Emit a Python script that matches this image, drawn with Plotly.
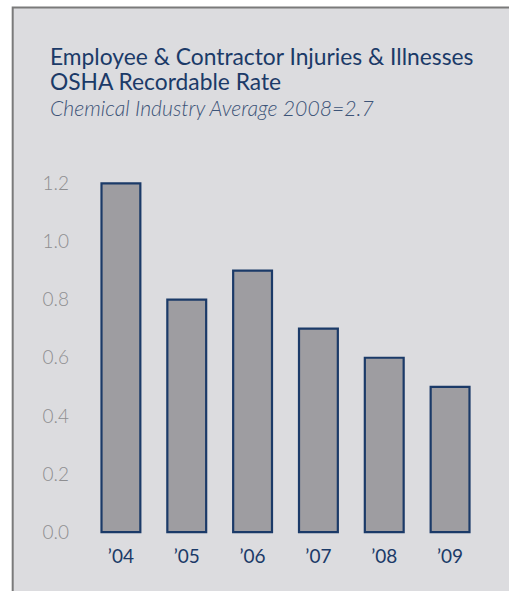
import plotly.graph_objects as go

categories = ["’04", "’05", "’06", "’07", "’08", "’09"]
values = [1.2, 0.8, 0.9, 0.7, 0.6, 0.5]
y_ticks = [0.0, 0.2, 0.4, 0.6, 0.8, 1.0, 1.2]
y_tick_labels = ["0.0", "0.2", "0.4", "0.6", "0.8", "1.0", "1.2"]
title_lines = [
    "Employee &amp; Contractor Injuries &amp; Illnesses",
    "OSHA Recordable Rate",
]
subtitle = "Chemical Industry Average 2008=2.7"

W, H = 509, 591
L_PX, R_PX = 87.5, 483.5
T_PX, B_PX = 166.4, 535.0
plot_w = R_PX - L_PX
plot_h = B_PX - T_PX


def px_x(p):
    return (p - L_PX) / plot_w


def px_y(p):
    return (B_PX - p) / plot_h


NAVY = "#1b3a68"
fig = go.Figure(
    go.Bar(
        x=categories,
        y=values,
        marker=dict(color="#9e9da1", line=dict(color=NAVY, width=2.2)),
        width=0.59,
    )
)

fig.update_layout(
    width=W,
    height=H,
    margin=dict(l=L_PX, r=W - R_PX, t=T_PX, b=H - B_PX),
    paper_bgcolor="white",
    plot_bgcolor="rgba(0,0,0,0)",
    showlegend=False,
    font=dict(family="Lato"),
)
fig.update_yaxes(
    range=[-0.01, 1.26],
    tickvals=y_ticks,
    ticktext=y_tick_labels,
    showgrid=False,
    zeroline=False,
    showline=False,
    tickfont=dict(size=19, color="#8e8e90", family="Lato", weight=300),
    ticklabelstandoff=18,
)
fig.update_xaxes(
    showgrid=False,
    showline=False,
    tickfont=dict(size=19, color=NAVY, family="Lato"),
    ticklabelstandoff=8,
)

fig.add_shape(
    type="rect", xref="paper", yref="paper",
    x0=px_x(12), x1=px_x(530), y0=px_y(8), y1=px_y(620),
    fillcolor="#dcdcdf", line=dict(color="#7a7a7a", width=2), layer="below",
)

title_html = "<br>".join(
    f'<span style="font-size:22.8px">{t}</span>' for t in title_lines
) + f'<br><span style="font-size:21.2px;color:#3d5478;font-weight:300"><i>{subtitle}</i></span>'

fig.add_annotation(
    text=title_html, xref="paper", yref="paper",
    x=px_x(47), y=px_y(82), xanchor="left", yanchor="middle", align="left",
    showarrow=False,
    font=dict(size=19.6, color=NAVY, family="Lato"),
)

fig.write_html(
    "out.html",
    config={"displayModeBar": False},
    post_script="document.body.style.margin='0';document.documentElement.style.overflow='hidden';",
)
